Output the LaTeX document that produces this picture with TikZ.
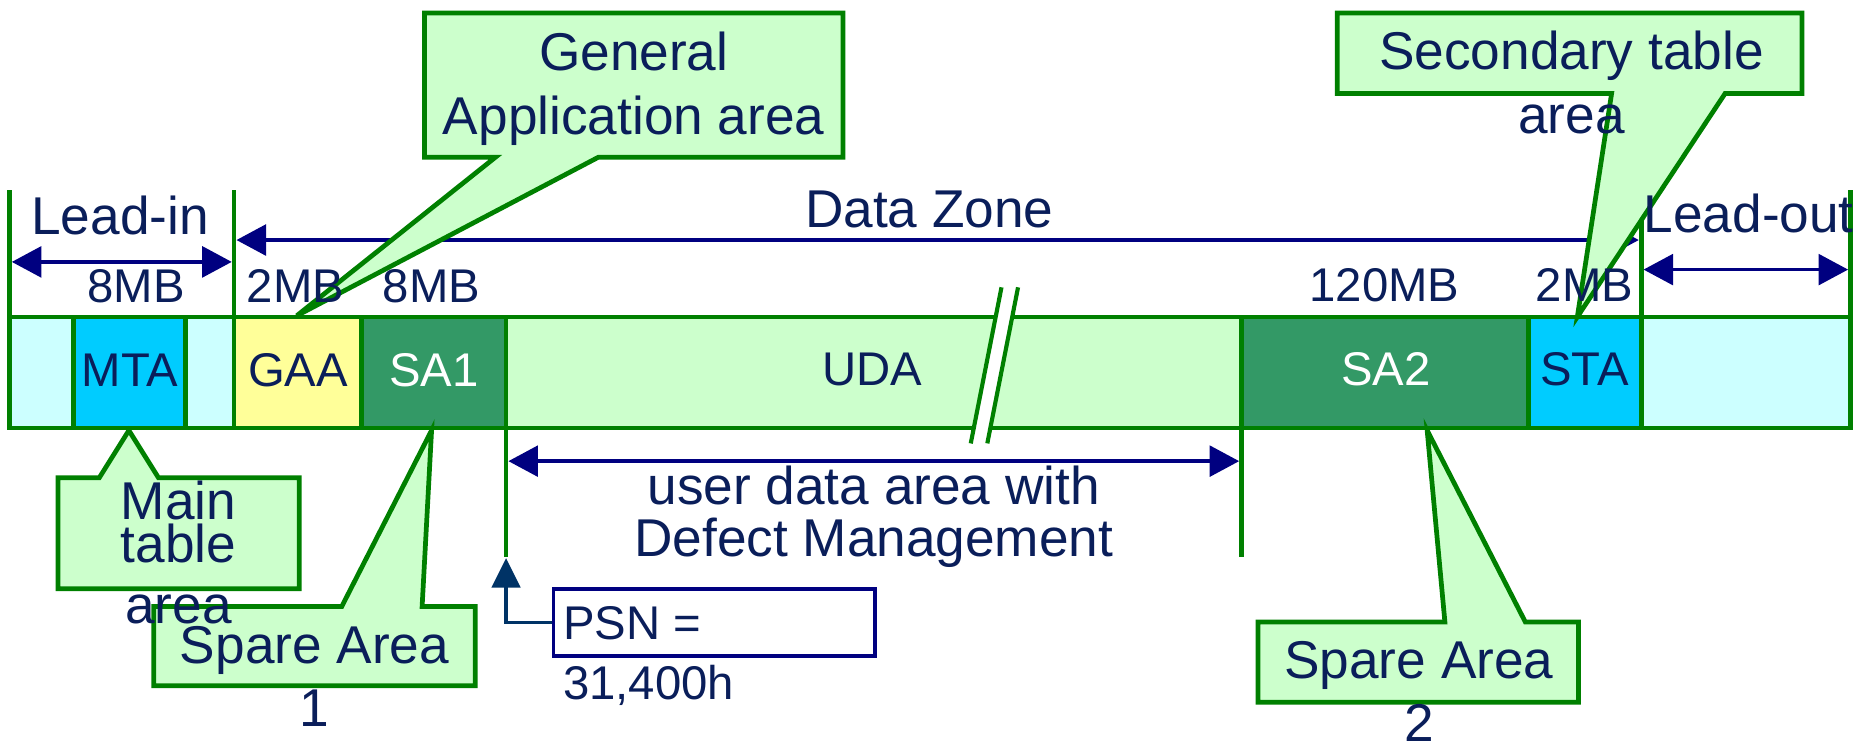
\documentclass[tikz,border=0pt]{standalone}
\usepackage{fontspec}
\setmainfont{Liberation Sans}
\usetikzlibrary{arrows.meta}
\definecolor{tnavy}{RGB}{10,30,90}
\definecolor{anavy}{RGB}{0,0,128}
\definecolor{gline}{RGB}{0,128,0}
\definecolor{lgreen}{RGB}{204,255,204}
\definecolor{dgreen}{RGB}{51,153,102}
\definecolor{cyanb}{RGB}{0,204,255}
\definecolor{lcyan}{RGB}{204,255,255}
\definecolor{lyellow}{RGB}{255,255,153}
\definecolor{pblue}{RGB}{0,51,102}
\begin{document}
\begin{tikzpicture}[x=1pt,y=-1pt,
 seg/.style={draw=gline,line width=4pt},
 callout/.style={draw=gline,fill=lgreen,line width=4pt},
 bound/.style={draw=gline,line width=4pt},
 dim/.style={draw=anavy,line width=3pt,{Triangle[length=25pt,width=26pt]}-{Triangle[length=25pt,width=26pt]}},
 big/.style={font=\fontsize{45}{50}\selectfont,text=tnavy,inner sep=0pt,anchor=base},
 mid/.style={font=\fontsize{40}{46}\selectfont,text=tnavy,inner sep=0pt,anchor=base},
 wmid/.style={mid,text=white},
]
\useasboundingbox (0,0) rectangle (1568,630);

% bar segments
\path[seg,fill=lcyan]   (8,268) rectangle (62,362);
\path[seg,fill=cyanb]   (62,268) rectangle (157,362);
\path[seg,fill=lcyan]   (157,268) rectangle (198,362);
\path[seg,fill=lyellow] (198,268) rectangle (306,362);
\path[seg,fill=dgreen]  (306,268) rectangle (428,362);
\path[seg,fill=lgreen]  (428,268) rectangle (1050,362);
\path[seg,fill=dgreen]  (1050,268) rectangle (1293,362);
\path[seg,fill=cyanb]   (1293,268) rectangle (1388,362);
\path[seg,fill=lcyan]   (1388,268) rectangle (1565,362);

% break mark
\coordinate (bk1a) at (847,243); \coordinate (bk1b) at (821,375);
\coordinate (bk2a) at (861,243); \coordinate (bk2b) at (835,375);
\fill[white] (bk1a) -- (bk2a) -- (bk2b) -- (bk1b) -- cycle;
\draw[gline,line width=3.5pt] (bk1a) -- (bk1b);
\draw[gline,line width=3.5pt] (bk2a) -- (bk2b);

% boundary lines
\coordinate (b0t) at (8,161);    \coordinate (b0b) at (8,268);
\coordinate (b1t) at (198,161);  \coordinate (b1b) at (198,268);
\coordinate (b2t) at (1388,186); \coordinate (b2b) at (1388,268);
\coordinate (b3t) at (1565,161); \coordinate (b3b) at (1565,268);
\coordinate (u0t) at (428,362);  \coordinate (u0b) at (428,471);
\coordinate (u1t) at (1050,362); \coordinate (u1b) at (1050,471);
\draw[bound] (b0t) -- (b0b);
\draw[bound] (b1t) -- (b1b);
\draw[bound] (b2t) -- (b2b);
\draw[bound] (b3t) -- (b3b);
\draw[bound] (u0t) -- (u0b);
\draw[bound] (u1t) -- (u1b);

% dimension arrows
\coordinate (lia) at (10,221.5);  \coordinate (lib) at (196,221.5);
\coordinate (dza) at (200,203);   \coordinate (dzb) at (1386,203);
\coordinate (loa) at (1390,228);  \coordinate (lob) at (1563,228);
\coordinate (uda) at (430,390);   \coordinate (udb) at (1048,390);
\draw[dim] (lia) -- (lib);
\draw[dim] (dza) -- (dzb);
\draw[dim] (loa) -- (lob);
\draw[dim] (uda) -- (udb);

% callouts
\coordinate (gaatip) at (251,267);
\path[callout] (359,11) -- (713,11) -- (713,133) -- (506,133) -- (gaatip) -- (419,133) -- (359,133) -- cycle;
\coordinate (statip) at (1334,268);
\path[callout] (1131,11) -- (1524,11) -- (1524,79) -- (1459,79) -- (statip) -- (1363,79) -- (1131,79) -- cycle;
\coordinate (mtatip) at (109,364);
\path[callout] (49,404) -- (84,404) -- (mtatip) -- (134,404) -- (253,404) -- (253,498) -- (49,498) -- cycle;
\coordinate (sa1tip) at (365,364);
\path[callout] (130,513) -- (289,513) -- (sa1tip) -- (357,513) -- (402,513) -- (402,580) -- (130,580) -- cycle;
\coordinate (sa2tip) at (1207,364);
\path[callout] (1064,526) -- (1222,526) -- (sa2tip) -- (1290,526) -- (1335,526) -- (1335,594) -- (1064,594) -- cycle;

% PSN box and connector
\node[draw=anavy,line width=3pt,minimum width=272pt,minimum height=57pt,inner sep=0pt] (psnbox) at (604,526.5) {};
\coordinate (psntip) at (428,472);
\draw[pblue,line width=3pt,-{Triangle[length=25pt,width=24pt]}] (psnbox.west) -| (psntip);

% texts
\node[big] (tleadin) at (101.5,198) {Lead-in};
\node[big] (tdz) at (786,192) {Data Zone};
\node[big] (tleadout) at (1479,197) {Lead-out};
\node[mid] (s1) at (115,256) {8MB};
\node[mid] (s2) at (250,256) {2MB};
\node[mid] (s3) at (365,256) {8MB};
\node[mid] (s4) at (1171,255) {120MB};
\node[mid] (s5) at (1340,255) {2MB};
\node[mid] (tmta) at (110,327) {MTA};
\node[mid] (tgaa) at (252,327) {GAA};
\node[wmid] (tsa1) at (367,327) {SA1};
\node[mid] (tuda) at (738,326) {UDA};
\node[wmid] (tsa2) at (1172,326) {SA2};
\node[mid] (tsta) at (1340,326) {STA};
\node[big] (tud1) at (739,427) {user data area with};
\node[big] (tud2) at (739,471) {Defect Management};
\node[big] (tgen1) at (536,60) {General};
\node[big] (tgen2) at (536,114) {Application area};
\node[big] (tsec1) at (1329,59) {Secondary table};
\node[big] (tsec2) at (1329,113) {area};
\node[big] (tmain1) at (151,439) {Main};
\node[big] (tmain2) at (151,476) {table};
\node[big] (tmain3) at (151,527) {area};
\node[big] (tsp1a) at (266,561) {Spare Area};
\node[big] (tsp1b) at (266,614) {1};
\node[big] (tsp2a) at (1200,574) {Spare Area};
\node[big] (tsp2b) at (1200,627) {2};
\node[mid,anchor=base west] (tpsn1) at (476,541) {PSN =};
\node[mid,anchor=base west] (tpsn2) at (476,592) {31,400h};
\end{tikzpicture}
\end{document}
